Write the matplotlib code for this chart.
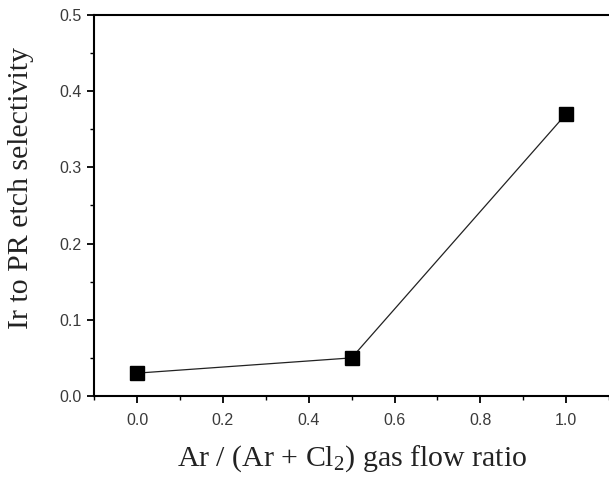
import matplotlib.pyplot as plt
from matplotlib.ticker import MultipleLocator

plt.rcParams['font.family'] = ['Liberation Sans', 'DejaVu Sans']
plt.rcParams['mathtext.fontset'] = 'custom'
plt.rcParams['mathtext.rm'] = 'Liberation Serif'
plt.rcParams['mathtext.it'] = 'Liberation Serif:italic'

# data
ratio = [0.0, 0.5, 1.0]
selectivity = [0.03, 0.05, 0.37]

fig = plt.figure(figsize=(6.09, 4.8), dpi=100)
ax = fig.add_axes([0.1547, 0.175, 0.8453, 0.794])

ax.plot(ratio, selectivity, color='#222222', linewidth=0.9,
        marker='s', markersize=10, markerfacecolor='black', markeredgecolor='black')

ax.set_xlim(-0.1, 1.1)
ax.set_ylim(0.0, 0.5)
ax.xaxis.set_major_locator(MultipleLocator(0.2))
ax.xaxis.set_minor_locator(MultipleLocator(0.1))
ax.yaxis.set_major_locator(MultipleLocator(0.1))
ax.yaxis.set_minor_locator(MultipleLocator(0.05))
ax.xaxis.set_major_formatter(plt.FormatStrFormatter('%.1f'))
ax.yaxis.set_major_formatter(plt.FormatStrFormatter('%.1f'))

for sp in ax.spines.values():
    sp.set_linewidth(1.5)
ax.spines['right'].set_visible(False)

ax.tick_params(which='major', direction='out', length=5, width=1.3,
               labelsize=11.5, labelcolor='#3a3a3a', pad=4)
ax.tick_params(axis='x', which='major', pad=7)
ax.tick_params(which='minor', direction='out', length=3, width=1.0)

ax.set_xlabel('Ar / (Ar + Cl$\\mathrm{_2}$) gas flow ratio', family='Liberation Serif',
              fontsize=21.5, color='#222222')
ax.set_ylabel('Ir to PR etch selectivity', family='Liberation Serif',
              fontsize=21.5, color='#222222')
ax.xaxis.set_label_coords(0.5, -0.123)
ax.yaxis.set_label_coords(-0.1165, 0.545)

fig.savefig('out.png', dpi=100)
